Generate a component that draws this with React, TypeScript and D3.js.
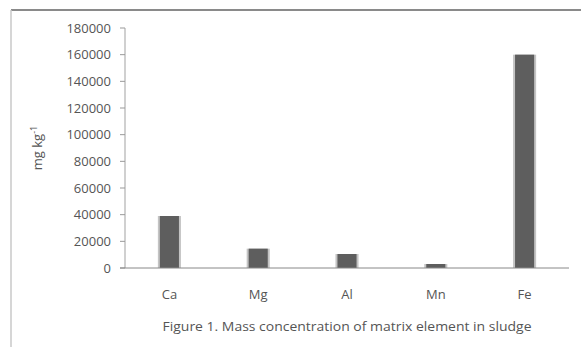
import React from "react";
import * as d3 from "d3";

const categories = ["Ca", "Mg", "Al", "Mn", "Fe"];
const values = [39000, 14500, 10500, 3000, 160000];
const yTicks = [0, 20000, 40000, 60000, 80000, 100000, 120000, 140000, 160000, 180000];

export default function App() {
  const W = 581, H = 347;
  const x = d3.scaleBand<string>().domain(categories).range([125, 569]).paddingInner(0.74).paddingOuter(0.37);
  const y = d3.scaleLinear().domain([0, 180000]).range([268, 28]);
  const font = "'Open Sans', 'Liberation Sans', sans-serif";
  return (
    <svg width={W} height={H} style={{ position: "absolute", left: 0, top: 0 }}>
      <rect x={0} y={0} width={W} height={H} fill="#fff" />
      <line x1={11} x2={W} y1={10} y2={10} stroke="#8a8a8a" strokeWidth={2} />
      <line x1={11} x2={11} y1={10} y2={H} stroke="#c8c8c8" strokeWidth={1.5} />
      <line x1={125} x2={125} y1={28} y2={268} stroke="#d0d0d0" strokeWidth={2} />
      {yTicks.map((t) => (
        <g key={t}>
          <line x1={120} x2={125} y1={y(t)} y2={y(t)} stroke="#999" />
          <text x={111} y={y(t)} dy="0.35em" textAnchor="end" fontFamily={font} fontSize={13} fill="#555">
            {t}
          </text>
        </g>
      ))}
      {categories.map((c, i) => (
        <g key={c}>
          <rect x={x(c)!} y={y(values[i])} width={x.bandwidth()} height={268 - y(values[i])} fill="#c4c4c4" />
          <rect x={x(c)! + 2} y={y(values[i])} width={x.bandwidth() - 4} height={268 - y(values[i])} fill="#5e5e5e" />
          <text x={x(c)! + x.bandwidth() / 2} y={294} dy="0.35em" textAnchor="middle" fontFamily={font} fontSize={13} fill="#555">
            {c}
          </text>
        </g>
      ))}
      <line x1={120} x2={569} y1={268} y2={268} stroke="#888" strokeWidth={1} />
      <text transform="translate(42,148) rotate(-90)" textAnchor="middle" fontFamily={font} fontSize={13} fill="#555">
        mg kg<tspan dy={-5} fontSize={9}>-1</tspan>
      </text>
      <text x={347} y={326} dy="0.35em" textAnchor="middle" fontFamily={font} fontSize={13.5} fill="#555" textLength={369} lengthAdjust="spacingAndGlyphs">
        Figure 1. Mass concentration of matrix element in sludge
      </text>
    </svg>
  );
}
